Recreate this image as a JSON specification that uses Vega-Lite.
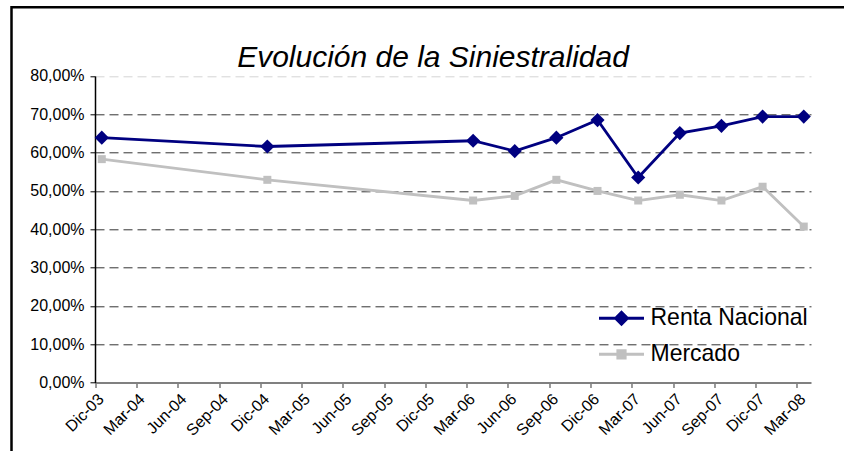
{
  "$schema": "https://vega.github.io/schema/vega-lite/v6.json",
  "width": 840,
  "height": 455,
  "autosize": {"type": "none"},
  "padding": {"left": 11.5, "top": 7.3, "right": 0, "bottom": 0},
  "background": "#ffffff",
  "config": {
    "view": {"stroke": "#000000", "strokeWidth": 2.5, "fill": "#ffffff"},
    "font": "Liberation Sans"
  },
  "title": {
    "text": "Evolución de la Siniestralidad",
    "font": "Liberation Sans",
    "fontSize": 30,
    "fontStyle": "italic",
    "fontWeight": "normal",
    "color": "#000000",
    "anchor": "middle",
    "frame": "group",
    "offset": -89.5,
    "dx": 1.5,
    "baseline": "alphabetic"
  },
  "data": {
    "values": [
      {"date": "2003-12-16", "series": "Renta Nacional", "value": 0.639},
      {"date": "2004-12-16", "series": "Renta Nacional", "value": 0.616},
      {"date": "2006-03-16", "series": "Renta Nacional", "value": 0.631},
      {"date": "2006-06-16", "series": "Renta Nacional", "value": 0.604},
      {"date": "2006-09-16", "series": "Renta Nacional", "value": 0.639},
      {"date": "2006-12-16", "series": "Renta Nacional", "value": 0.685},
      {"date": "2007-03-16", "series": "Renta Nacional", "value": 0.535},
      {"date": "2007-06-16", "series": "Renta Nacional", "value": 0.651},
      {"date": "2007-09-16", "series": "Renta Nacional", "value": 0.670},
      {"date": "2007-12-16", "series": "Renta Nacional", "value": 0.694},
      {"date": "2008-03-16", "series": "Renta Nacional", "value": 0.694},
      {"date": "2003-12-16", "series": "Mercado", "value": 0.583},
      {"date": "2004-12-16", "series": "Mercado", "value": 0.529},
      {"date": "2006-03-16", "series": "Mercado", "value": 0.475},
      {"date": "2006-06-16", "series": "Mercado", "value": 0.487},
      {"date": "2006-09-16", "series": "Mercado", "value": 0.529},
      {"date": "2006-12-16", "series": "Mercado", "value": 0.500},
      {"date": "2007-03-16", "series": "Mercado", "value": 0.475},
      {"date": "2007-06-16", "series": "Mercado", "value": 0.490},
      {"date": "2007-09-16", "series": "Mercado", "value": 0.475},
      {"date": "2007-12-16", "series": "Mercado", "value": 0.511},
      {"date": "2008-03-16", "series": "Mercado", "value": 0.407}
    ]
  },
  "encoding": {
    "x": {
      "field": "date",
      "type": "temporal",
      "scale": {
        "type": "utc",
        "domain": [
          {"year": 2003, "month": 12, "date": 1, "utc": true},
          {"year": 2008, "month": 4, "date": 1, "utc": true}
        ],
        "range": [83.5, 799.5],
        "nice": false
      },
      "axis": {
        "orient": "bottom",
        "offset": -79.8,
        "title": null,
        "grid": false,
        "values": [
          {"year": 2003, "month": 12, "date": 1, "utc": true},
          {"year": 2004, "month": 3, "date": 1, "utc": true},
          {"year": 2004, "month": 6, "date": 1, "utc": true},
          {"year": 2004, "month": 9, "date": 1, "utc": true},
          {"year": 2004, "month": 12, "date": 1, "utc": true},
          {"year": 2005, "month": 3, "date": 1, "utc": true},
          {"year": 2005, "month": 6, "date": 1, "utc": true},
          {"year": 2005, "month": 9, "date": 1, "utc": true},
          {"year": 2005, "month": 12, "date": 1, "utc": true},
          {"year": 2006, "month": 3, "date": 1, "utc": true},
          {"year": 2006, "month": 6, "date": 1, "utc": true},
          {"year": 2006, "month": 9, "date": 1, "utc": true},
          {"year": 2006, "month": 12, "date": 1, "utc": true},
          {"year": 2007, "month": 3, "date": 1, "utc": true},
          {"year": 2007, "month": 6, "date": 1, "utc": true},
          {"year": 2007, "month": 9, "date": 1, "utc": true},
          {"year": 2007, "month": 12, "date": 1, "utc": true},
          {"year": 2008, "month": 3, "date": 1, "utc": true}
        ],
        "labelExpr": "['Ene','Feb','Mar','Abr','May','Jun','Jul','Ago','Sep','Oct','Nov','Dic'][utcmonth(datum.value)] + '-' + utcFormat(datum.value, '%y')",
        "labelAngle": -45,
        "labelAlign": "right",
        "labelBaseline": "top",
        "labelFont": "Liberation Sans",
        "labelFontSize": 16,
        "labelColor": "#000000",
        "labelPadding": 3,
        "labelOverlap": false,
        "labelFlush": false,
        "domainColor": "#808080",
        "domainWidth": 2,
        "tickColor": "#333333",
        "tickSize": 5,
        "tickWidth": 1
      }
    },
    "y": {
      "field": "value",
      "type": "quantitative",
      "scale": {"domain": [0, 0.8], "range": [375.2, 68.7], "nice": false, "zero": true},
      "axis": {
        "orient": "left",
        "offset": -83.5,
        "title": null,
        "values": [0, 0.1, 0.2, 0.3, 0.4, 0.5, 0.6, 0.7, 0.8],
        "labelExpr": "replace(format(datum.value, '.2%'), '.', ',')",
        "labelFont": "Liberation Sans",
        "labelFontSize": 16,
        "labelColor": "#000000",
        "labelPadding": 6,
        "domainColor": "#000000",
        "domainWidth": 1.5,
        "tickColor": "#000000",
        "tickSize": 5,
        "grid": true,
        "gridColor": {"condition": {"test": "datum.value > 0.79", "value": "#d4d4d4"}, "value": "#333333"},
        "gridOpacity": {"condition": {"test": "datum.value < 0.01", "value": 0}, "value": 1},
        "gridDash": [9, 5],
        "gridWidth": 1
      }
    },
    "color": {
      "field": "series",
      "type": "nominal",
      "scale": {"domain": ["Renta Nacional", "Mercado"], "range": ["#000080", "#c0c0c0"]},
      "legend": {
        "orient": "none",
        "legendX": 586,
        "legendY": 287,
        "title": null,
        "padding": 0,
        "labelFont": "Liberation Sans",
        "labelFontSize": 23,
        "labelColor": "#000000",
        "labelOffset": 5,
        "symbolSize": 2025,
        "rowPadding": -9,
        "symbolStrokeWidth": 3,
        "encode": {
          "symbols": {
            "update": {
              "shape": {"signal": "datum.value === 'Renta Nacional' ? 'M-1,0H1M-0.26,0L0,-0.26L0.26,0L0,0.26Z' : 'M-1,0H1M-0.16,-0.16H0.16V0.16H-0.16Z'"},
              "fill": {"signal": "datum.value === 'Renta Nacional' ? '#000080' : '#c0c0c0'"},
              "stroke": {"signal": "datum.value === 'Renta Nacional' ? '#000080' : '#c0c0c0'"},
              "strokeWidth": {"value": 3},
              "opacity": {"value": 1}
            }
          }
        }
      }
    }
  },
  "layer": [
    {"mark": {"type": "line", "strokeWidth": 2.8}},
    {
      "transform": [{"filter": "datum.series === 'Renta Nacional'"}],
      "mark": {"type": "point", "filled": true, "opacity": 1, "size": 200, "shape": "M0,-1L1,0L0,1L-1,0Z"}
    },
    {
      "transform": [{"filter": "datum.series === 'Mercado'"}],
      "mark": {"type": "point", "filled": true, "opacity": 1, "size": 64, "shape": "square"}
    }
  ]
}
